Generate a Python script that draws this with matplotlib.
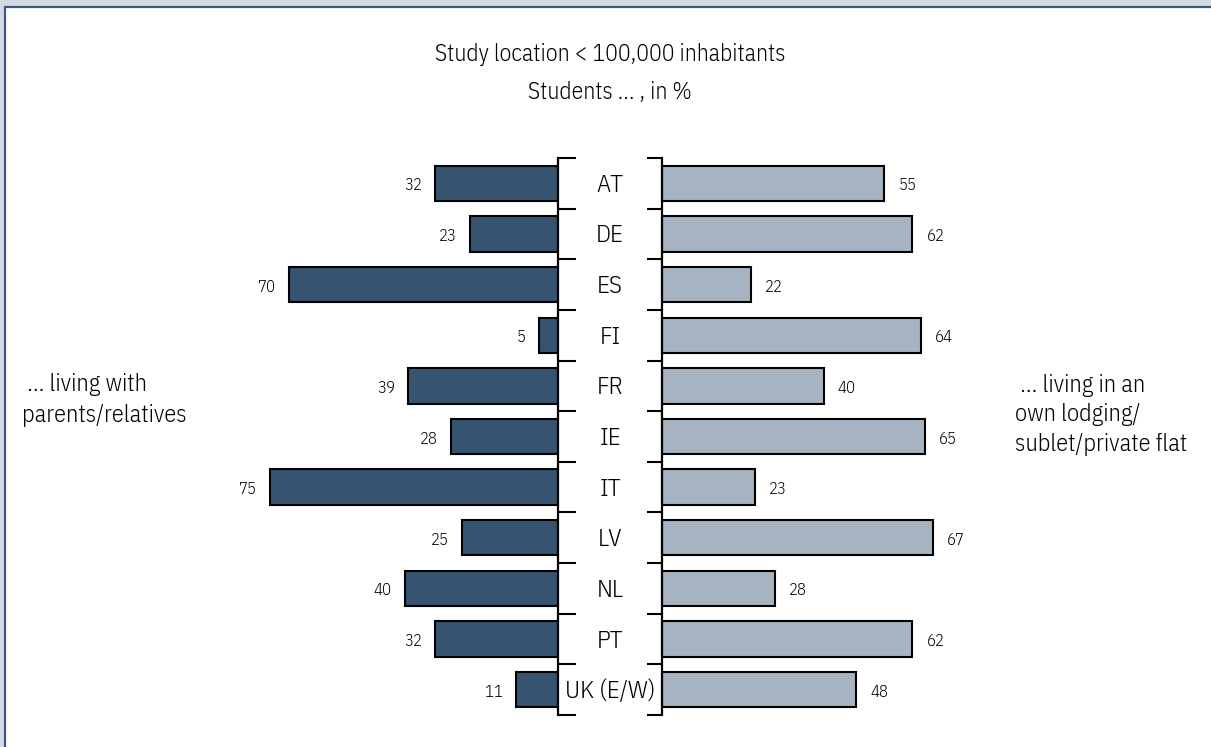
import matplotlib
matplotlib.use("Agg")
import matplotlib.pyplot as plt
import matplotlib.transforms as mtransforms
from matplotlib.patches import Rectangle
import numpy as np

plt.rcParams['font.family'] = ['IBM Plex Sans Condensed', 'DejaVu Sans']
plt.rcParams['font.stretch'] = 'condensed'
plt.rcParams['font.weight'] = 300

countries = ["AT", "DE", "ES", "FI", "FR", "IE", "IT", "LV", "NL", "PT", "UK (E/W)"]
with_parents = [32, 23, 70, 5, 39, 28, 75, 25, 40, 32, 11]
own_lodging = [55, 62, 22, 64, 40, 65, 23, 67, 28, 62, 48]

dark = '#36536f'
light = '#a6b4c2'

W, H = 1211, 747
fig = plt.figure(figsize=(W / 100, H / 100), dpi=100)
fig.patch.set_facecolor('#d4dbe3')
fig.patches.append(Rectangle((5 / W, -0.1), 1.2, 1 - 7 / H + 0.1, transform=fig.transFigure,
                             facecolor='white', edgecolor='#3e5b7f', lw=1.6, zorder=-1))

bottom = 1 - 715 / H
height = (715 - 158) / H
ax_l = fig.add_axes([251 / W, bottom, 307.2 / W, height])
ax_r = fig.add_axes([662 / W, bottom, 323.2 / W, height])

y = np.arange(len(countries))
ax_l.barh(y, with_parents, height=0.7, color=dark, edgecolor='black', lw=1.5)
ax_r.barh(y, own_lodging, height=0.7, color=light, edgecolor='black', lw=1.5)

for ax in (ax_l, ax_r):
    ax.set_facecolor('none')
    ax.set_ylim(len(countries) - 0.5, -0.5)
    ax.set_xlim(0, 80)
    ax.set_xticks([])
    ax.set_yticks(np.arange(len(countries) + 1) - 0.5)
    ax.set_yticklabels([])
    for s in ('top', 'bottom', 'left', 'right'):
        ax.spines[s].set_visible(False)
ax_l.invert_xaxis()
ax_l.spines['right'].set_visible(True)
ax_l.spines['right'].set_linewidth(1.6)
ax_l.yaxis.tick_right()
ax_l.tick_params(axis='y', direction='out', length=13, width=1.5)
ax_r.spines['left'].set_visible(True)
ax_r.spines['left'].set_linewidth(1.6)
ax_r.tick_params(axis='y', direction='out', length=11, width=1.5)

for i, v in enumerate(with_parents):
    ax_l.text(v + 3.5, i + 0.04, str(v), ha='right', va='center', fontsize=12)
for i, v in enumerate(own_lodging):
    ax_r.text(v + 3.5, i + 0.04, str(v), ha='left', va='center', fontsize=12)

trans = mtransforms.blended_transform_factory(fig.transFigure, ax_l.transData)
for i, c in enumerate(countries):
    ax_l.text(610 / W, i + 0.04, c, transform=trans, ha='center', va='center', fontsize=18)

fig.text(610 / W, 1 - 55 / H, "Study location < 100,000 inhabitants", ha='center', va='center', fontsize=17)
fig.text(610 / W, 1 - 92 / H, "Students ... , in %", ha='center', va='center', fontsize=17)

fig.text(22 / W, 1 - 400 / H, " ... living with\nparents/relatives", ha='left', va='center',
         fontsize=17.5, linespacing=1.42)
fig.text(1015 / W, 1 - 415 / H, " ... living in an\nown lodging/\nsublet/private flat", ha='left',
         va='center', fontsize=17.5, linespacing=1.36)

fig.savefig("out.png", dpi=100, facecolor=fig.get_facecolor())
